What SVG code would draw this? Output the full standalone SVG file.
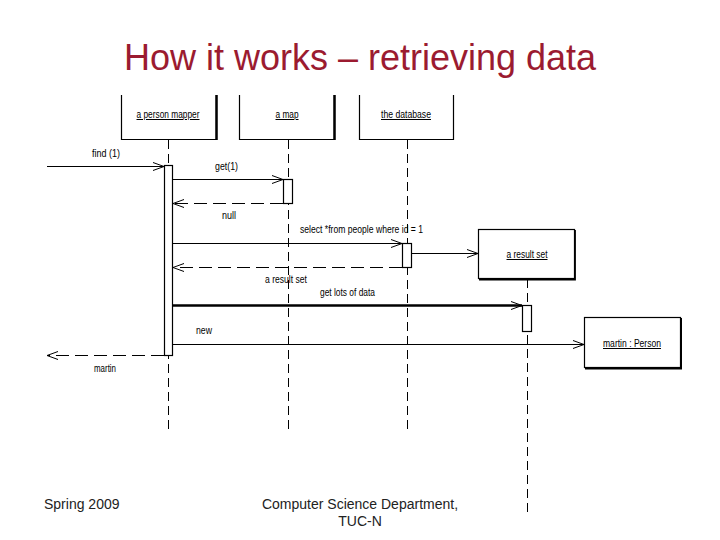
<svg xmlns="http://www.w3.org/2000/svg" width="720" height="540" viewBox="0 0 720 540">
<defs>
<style>
.t{font-family:"Liberation Sans",Arial,sans-serif;font-size:10px;fill:#000}
.u{text-decoration:underline}
.box{fill:#fff;stroke:#000;stroke-width:1.2}
.life{stroke:#000;stroke-width:1;stroke-dasharray:9 5;fill:none}
.msg{stroke:#000;stroke-width:1.2;fill:none}
.ret{stroke:#000;stroke-width:1.2;stroke-dasharray:13 6;fill:none}
.act{fill:#fff;stroke:#000;stroke-width:1.2}
.foot{font-family:"Liberation Sans",Arial,sans-serif;font-size:14px;fill:#222}
</style>
<marker id="open" viewBox="0 0 12 10" refX="11" refY="5" markerWidth="12" markerHeight="10" markerUnits="userSpaceOnUse" orient="auto">
<path d="M0,1 L11,5 L0,9" fill="none" stroke="#000" stroke-width="1"/>
</marker>
</defs>
<rect width="720" height="540" fill="#fff"/>
<text x="360" y="70" text-anchor="middle" style="font-family:'Liberation Sans',Arial,sans-serif;font-size:36px;fill:#9B1B30">How it works – retrieving data</text>

<g id="lifelines">
<line class="life" x1="168.5" y1="140" x2="168.5" y2="432"/>
<line class="life" x1="288.5" y1="140" x2="288.5" y2="432"/>
<line class="life" x1="407.5" y1="140" x2="407.5" y2="432"/>
<line class="life" x1="527.5" y1="279" x2="527.5" y2="513"/>
</g>

<g id="person-mapper">
<path d="M121.5,95 V139.5 H216.5 V95" fill="#fff" stroke="#000" stroke-width="1.2"/>
<line x1="216.5" y1="95" x2="216.5" y2="140" stroke="#000" stroke-width="2.5"/>
<text class="t u" x="168" y="118" text-anchor="middle" textLength="63" lengthAdjust="spacingAndGlyphs">a person mapper</text>
</g>
<g id="a-map">
<path d="M239.5,95 V139.5 H334.5 V95" fill="#fff" stroke="#000" stroke-width="1.2"/>
<line x1="334.5" y1="95" x2="334.5" y2="140" stroke="#000" stroke-width="2.5"/>
<text class="t u" x="287" y="118" text-anchor="middle" textLength="23" lengthAdjust="spacingAndGlyphs">a map</text>
</g>
<g id="the-database">
<path d="M359.5,95 V139.5 H453.5 V95" fill="#fff" stroke="#000" stroke-width="1.2"/>
<text class="t u" x="406" y="118" text-anchor="middle" textLength="50" lengthAdjust="spacingAndGlyphs">the database</text>
</g>
<g id="result-set">
<rect class="box" x="478.5" y="229.5" width="96" height="49"/>
<path d="M575,230 V279.5 H479" fill="none" stroke="#000" stroke-width="1.8"/>
<text class="t u" x="527" y="258" text-anchor="middle" textLength="41" lengthAdjust="spacingAndGlyphs">a result set</text>
</g>
<g id="martin-person">
<rect class="box" x="584.5" y="317.5" width="96" height="50"/>
<path d="M681,318 V368.5 H585" fill="none" stroke="#000" stroke-width="2"/>
<text class="t u" x="632" y="347" text-anchor="middle" textLength="58" lengthAdjust="spacingAndGlyphs">martin : Person</text>
</g>

<g id="activations">
<rect class="act" x="164.5" y="165.5" width="8" height="190"/>
<rect class="act" x="283.5" y="179.5" width="9" height="24"/>
<rect class="act" x="402.5" y="243.5" width="9" height="24"/>
<rect class="act" x="522.5" y="305.5" width="9" height="26"/>
</g>

<g id="connectors">
<line class="msg" x1="47" y1="166.5" x2="164" y2="166.5" marker-end="url(#open)"/>
<line class="msg" x1="173" y1="179.5" x2="283" y2="179.5" marker-end="url(#open)"/>
<line class="ret" x1="283" y1="203.5" x2="173" y2="203.5" marker-end="url(#open)"/>
<line class="msg" x1="173" y1="243.5" x2="402" y2="243.5" marker-end="url(#open)"/>
<line class="msg" x1="412" y1="253.5" x2="478" y2="253.5" marker-end="url(#open)"/>
<line class="ret" x1="402" y1="267.5" x2="173" y2="267.5" marker-end="url(#open)"/>
<line x1="173" y1="305.5" x2="522" y2="305.5" stroke="#000" stroke-width="2.4" marker-end="url(#open)"/>
<line class="msg" x1="173" y1="344.5" x2="584" y2="344.5" marker-end="url(#open)"/>
<line class="ret" x1="164" y1="355.5" x2="47" y2="355.5" marker-end="url(#open)"/>
</g>

<g id="labels">
<text class="t" x="92" y="157" textLength="28" lengthAdjust="spacingAndGlyphs">find (1)</text>
<text class="t" x="215" y="170" textLength="23" lengthAdjust="spacingAndGlyphs">get(1)</text>
<text class="t" x="222" y="219" textLength="14" lengthAdjust="spacingAndGlyphs">null</text>
<text class="t" x="300" y="233" textLength="123" lengthAdjust="spacingAndGlyphs">select *from people where id = 1</text>
<text class="t" x="265" y="283" textLength="42" lengthAdjust="spacingAndGlyphs">a result set</text>
<text class="t" x="320" y="296" textLength="55" lengthAdjust="spacingAndGlyphs">get lots of data</text>
<text class="t" x="196" y="334" textLength="16" lengthAdjust="spacingAndGlyphs">new</text>
<text class="t" x="94" y="372" textLength="22" lengthAdjust="spacingAndGlyphs">martin</text>
</g>

<text class="foot" x="44" y="509">Spring 2009</text>
<text class="foot" x="360" y="509" text-anchor="middle">Computer Science Department,</text>
<text class="foot" x="360" y="526" text-anchor="middle">TUC-N</text>
</svg>
